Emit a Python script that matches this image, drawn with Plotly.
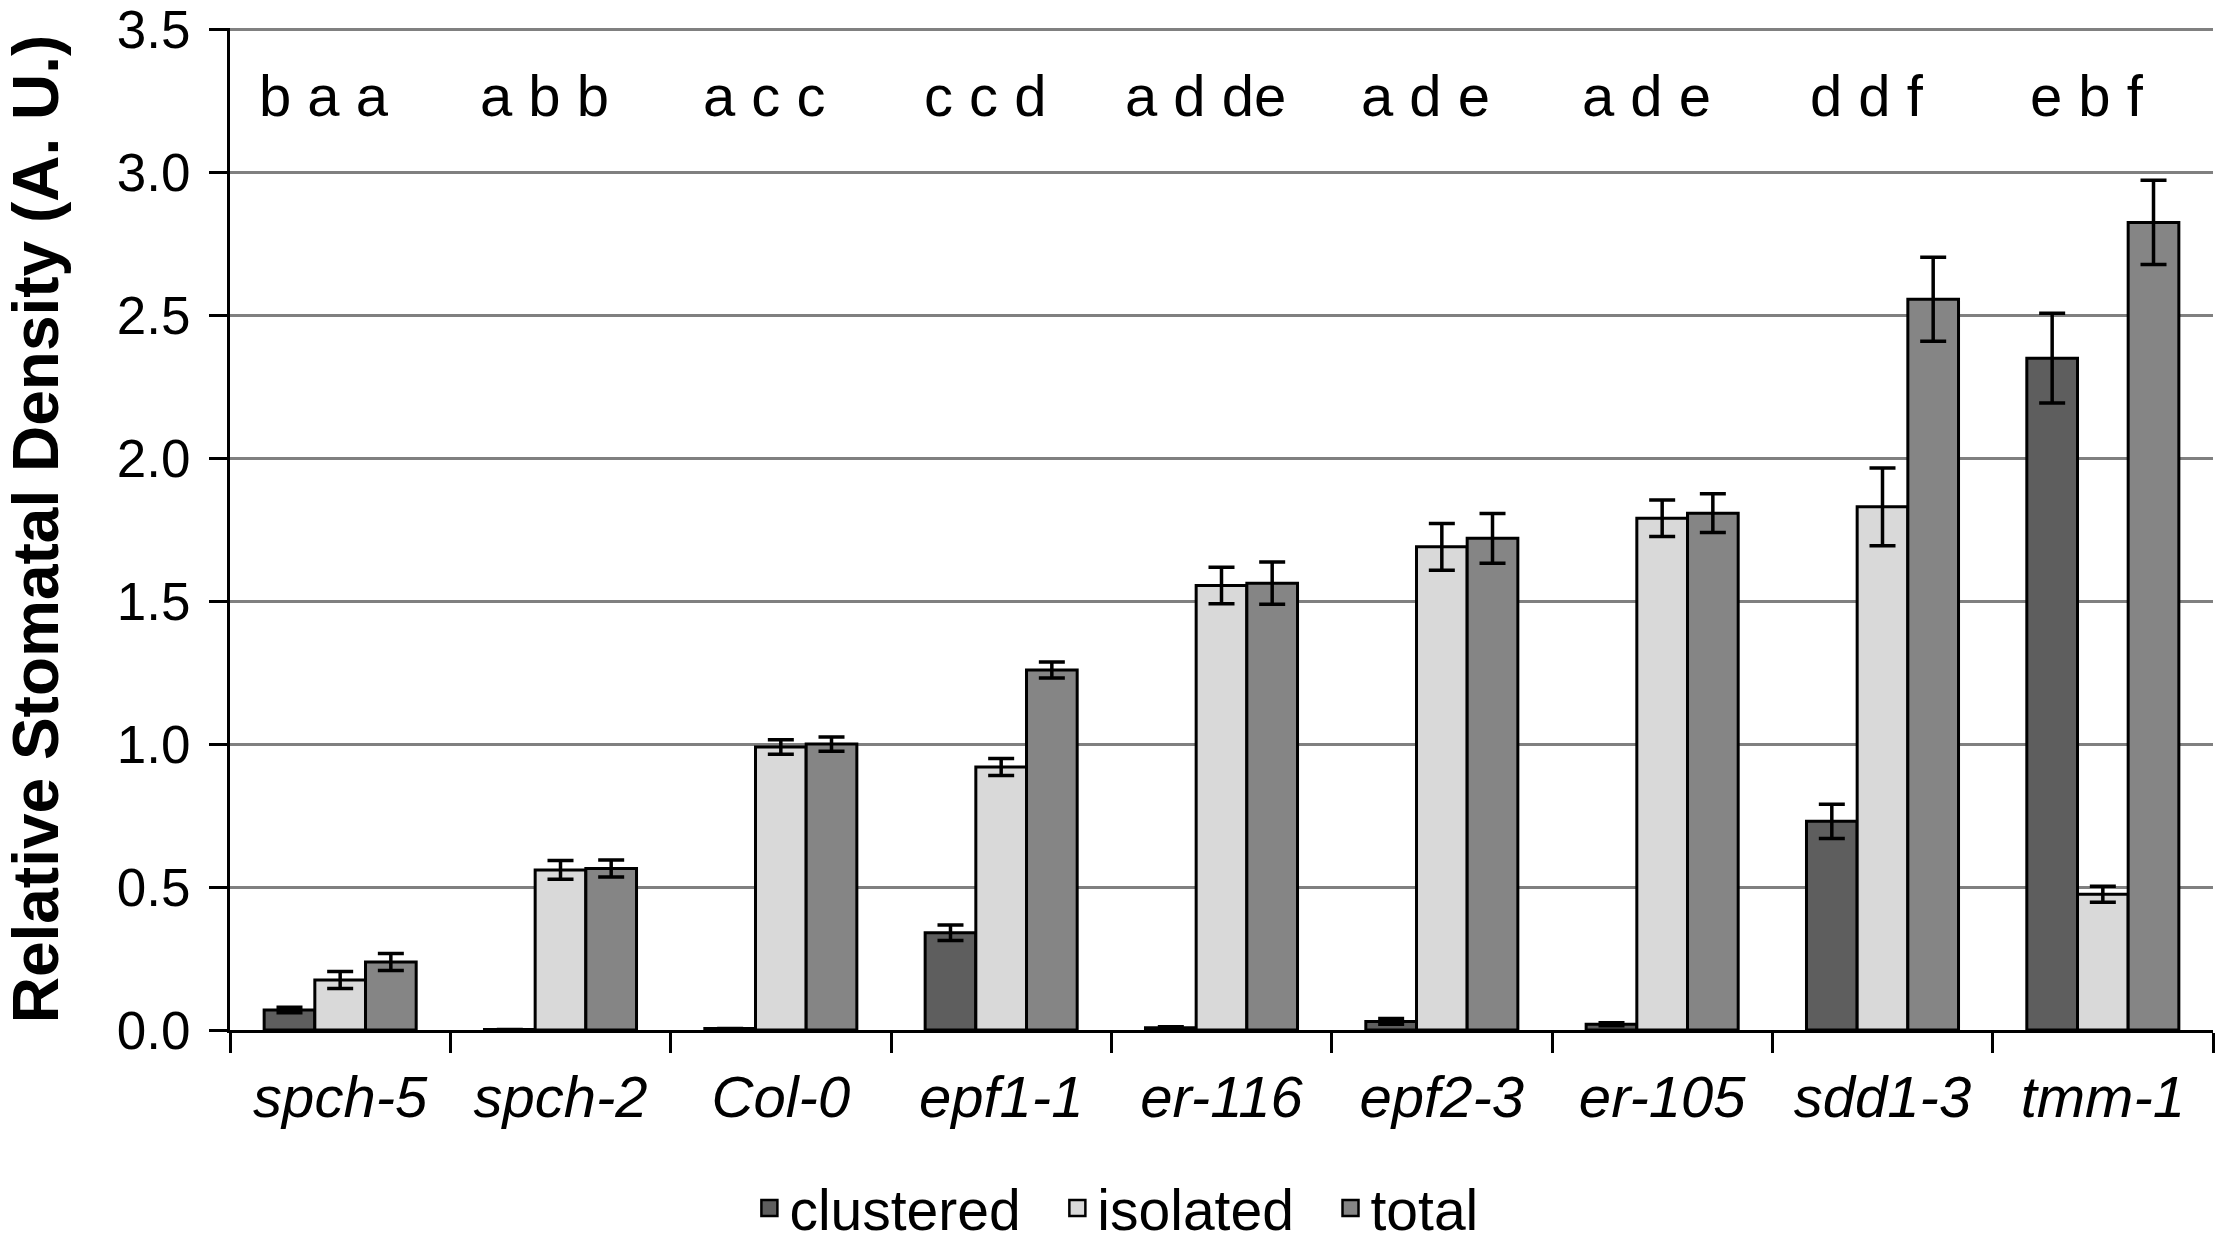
import plotly.graph_objects as go

# genotypes on the x axis
genotypes = ['spch-5', 'spch-2', 'Col-0', 'epf1-1', 'er-116',
             'epf2-3', 'er-105', 'sdd1-3', 'tmm-1']

# relative stomatal density (A. U.) and standard errors
clustered = [0.07, 0.002, 0.005, 0.34, 0.008, 0.03, 0.02, 0.73, 2.35]
clustered_err = [0.01, 0.0, 0.0, 0.027, 0.003, 0.01, 0.005, 0.06, 0.157]
isolated = [0.175, 0.56, 0.99, 0.92, 1.555, 1.69, 1.79, 1.83, 0.475]
isolated_err = [0.03, 0.033, 0.025, 0.03, 0.064, 0.082, 0.064, 0.136, 0.028]
total = [0.238, 0.565, 1.0, 1.259, 1.563, 1.72, 1.808, 2.556, 2.825]
total_err = [0.03, 0.03, 0.025, 0.028, 0.074, 0.087, 0.068, 0.147, 0.147]

# significance letters above each group
letters = ['b a a', 'a b b', 'a c c', 'c c d', 'a d de',
           'a d e', 'a d e', 'd d f', 'e b f']

font_family = 'Liberation Sans, Arial, sans-serif'
nb = '\u00a0'

fig = go.Figure()

series = [
    ('clustered', clustered, clustered_err, '#5e5e5e'),
    ('isolated', isolated, isolated_err, '#d9d9d9'),
    ('total', total, total_err, '#858585'),
]
for name, vals, errs, color in series:
    fig.add_trace(go.Bar(
        name=name, x=genotypes, y=vals, showlegend=False,
        marker=dict(color=color, line=dict(color='black', width=3)),
        error_y=dict(type='data', array=errs, visible=True,
                     color='black', thickness=3.5, width=13),
    ))

# legend entries with bigger square swatches (extra space after names
# so the entries sit apart like in the original)
for i, (name, vals, errs, color) in enumerate(series):
    label = name + (nb * 2 if i < len(series) - 1 else '')
    fig.add_trace(go.Scatter(
        name=label, x=[None], y=[None], mode='markers',
        marker=dict(symbol='square', size=30, color=color,
                    line=dict(color='black', width=2.5)),
    ))

for g, txt in zip(genotypes, letters):
    fig.add_annotation(x=g, y=3.27, xref='x', yref='y', text=txt,
                       showarrow=False, xshift=-16,
                       font=dict(family=font_family, size=58, color='black'))

fig.update_layout(
    width=2228, height=1248,
    margin=dict(l=230, r=15, t=28, b=218, autoexpand=False),
    paper_bgcolor='white', plot_bgcolor='white',
    barmode='group', bargap=0.31, bargroupgap=0,
    font=dict(family=font_family, color='black'),
    showlegend=True,
    legend=dict(orientation='h', x=0.447, xanchor='center',
                y=-0.178, yanchor='middle',
                font=dict(size=57, color='black'),
                itemsizing='trace', itemwidth=30,
                itemclick=False),
)

fig.update_xaxes(
    type='category', showline=True, linecolor='black', linewidth=3,
    ticks='outside', tickson='boundaries', ticklen=20, tickwidth=3,
    tickcolor='black', ticklabelstandoff=14,
    tickfont=dict(size=58, color='black', family=font_family),
    showgrid=False, automargin=False,
    ticktext=['<i>%s</i>' % g for g in genotypes],
    tickvals=genotypes,
)

fig.update_yaxes(
    range=[0, 3.505], tick0=0, dtick=0.5, tickformat='.1f',
    showline=True, linecolor='black', linewidth=3,
    ticks='outside', ticklen=18, tickwidth=3, tickcolor='black',
    ticklabelstandoff=8, ticklabeloverflow='allow',
    tickfont=dict(size=53, color='black', family=font_family),
    showgrid=True, gridcolor='#808080', gridwidth=3,
    zeroline=False, automargin=False,
    title=dict(text='<b>Relative Stomatal Density (A. U.)</b>',
               font=dict(size=64, color='black', family=font_family),
               standoff=56),
)

# the page body has an 8px default margin; drop it so the figure fills the window
fig.write_html("out.html", config={'displayModeBar': False},
               post_script="document.body.style.margin='0px';")
